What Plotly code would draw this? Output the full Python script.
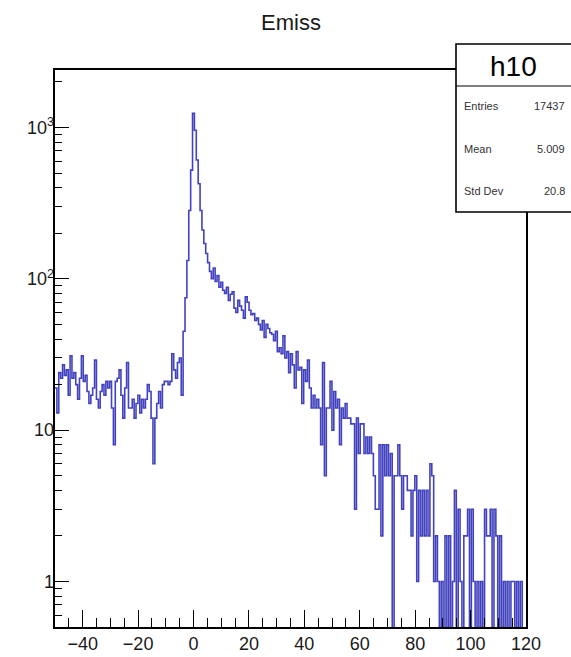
import numpy as np
import plotly.graph_objects as go

# ---------------- data ----------------
x_min, x_max, n_bins = -50.0, 120.0, 250
counts = [
    19, 13, 24, 22, 27, 23, 25, 17, 31, 22,
    24, 20, 16, 22, 31, 21, 23, 18, 15, 17,
    19, 29, 16, 14, 18, 20, 17, 21, 19, 21,
    14, 8, 21, 22, 25, 17, 12, 19, 28, 14,
    14, 16, 12, 15, 17, 13, 16, 14, 16, 20,
    18, 12, 6, 12, 15, 18, 14, 20, 21, 21,
    20, 21, 32, 25, 22, 28, 30, 17, 45, 75,
    132, 283, 523, 1240, 960, 610, 425, 283, 210, 171,
    147, 128, 112, 100, 118, 96, 105, 88, 95, 84,
    80, 88, 72, 79, 82, 64, 60, 72, 66, 62,
    55, 76, 70, 62, 58, 59, 53, 55, 50, 46,
    53, 41, 50, 47, 44, 43, 39, 45, 33, 35,
    32, 42, 30, 33, 24, 32, 27, 19, 33, 25,
    26, 15, 25, 21, 29, 19, 14, 17, 14, 16,
    14, 8, 28, 5, 14, 14, 21, 10, 18, 14,
    16, 8, 14, 12, 15, 12, 12, 11, 11, 3,
    12, 7, 11, 11, 7, 9, 7, 9, 7, 5,
    3, 3, 8, 2, 8, 5, 8, 5, 7, 0,
    5, 5, 8, 5, 3, 5, 5, 4, 4, 2,
    4, 5, 1, 4, 2, 4, 2, 4, 2, 6,
    5, 1, 2, 1, 0, 1, 0, 2, 0, 2,
    0, 1, 4, 0, 3, 1, 0, 2, 2, 3,
    0, 3, 1, 0, 1, 0, 1, 0, 3, 2,
    2, 3, 0, 3, 2, 0, 2, 0, 1, 0,
    1, 0, 1, 1, 0, 1, 0, 1, 0, 0,
]
assert len(counts) == n_bins

title_text = "Emiss"
stats_name = "h10"
stats_labels = ["Entries", "Mean", "Std Dev"]
stats_values = ["17437", "5.009", "20.8"]
x_tick_vals = [-40, -20, 0, 20, 40, 60, 80, 100, 120]
y_major_vals = [1, 10, 100, 1000]
y_major_text = ["1", "10", "10<sup>2</sup>", "10<sup>3</sup>"]
y_range_log = [np.log10(0.5), 3.38]

# ---------------- layout geometry ----------------
W, H = 571, 657
L, R, T, B = 55, 526, 70, 627
FONT = "Liberation Sans, Arial, Helvetica, sans-serif"
LINE_COL = "rgb(66,66,192)"


def px(xp):
    return (xp - L) / (R - L)


def py(yp):
    return (B - yp) / (B - T)


edges = np.linspace(x_min, x_max, n_bins + 1)
c = np.asarray(counts, dtype=float)
c_plot = np.where(c > 0, c, 0.05)  # empty bins drop below the frame
ys = np.append(c_plot, c_plot[-1])

fig = go.Figure()
fig.add_trace(go.Scatter(x=edges, y=ys, mode="lines",
                         line=dict(shape="hv", color=LINE_COL, width=1.6),
                         hoverinfo="skip", showlegend=False))
# invisible copy so that the major-tick overlay axis is drawn
fig.add_trace(go.Scatter(x=edges, y=ys, mode="lines", yaxis="y2", opacity=0,
                         line=dict(shape="hv", width=0),
                         hoverinfo="skip", showlegend=False))

minor_y = [m * 10.0 ** k for k in range(-1, 4) for m in range(1, 10)]

fig.update_layout(
    template="none",
    width=W, height=H, autosize=False,
    margin=dict(l=L, r=W - R, t=T, b=H - B, pad=0),
    paper_bgcolor="white", plot_bgcolor="white",
    font=dict(family=FONT, color="#1a1a1a", size=18),
    xaxis=dict(range=[x_min, x_max], showgrid=False, zeroline=False,
               automargin=False,
               showline=True, linecolor="black", linewidth=1.5, mirror=True,
               tickmode="array", tickvals=x_tick_vals, ticks="inside",
               ticklen=17, tickwidth=1.3, tickcolor="black",
               tickfont=dict(size=18, family=FONT, color="#1a1a1a"),
               minor=dict(dtick=5, tick0=0, ticks="inside", ticklen=9,
                          tickwidth=1.3, tickcolor="black", showgrid=False)),
    yaxis=dict(type="log", range=y_range_log, showgrid=False, zeroline=False,
               automargin=False,
               showline=True, linecolor="black", linewidth=1.5, mirror=True,
               tickmode="array", tickvals=minor_y,
               ticktext=[""] * len(minor_y), ticks="inside", ticklen=7,
               tickwidth=1.3, tickcolor="black"),
    yaxis2=dict(type="log", range=y_range_log, overlaying="y", side="left",
                automargin=False,
                showgrid=False, zeroline=False, showline=False,
                tickmode="array", tickvals=y_major_vals,
                ticktext=y_major_text, ticks="inside", ticklen=14,
                tickwidth=1.3, tickcolor="black",
                tickfont=dict(size=18, family=FONT, color="#1a1a1a")),
)

shapes = [
    dict(type="rect", xref="paper", yref="paper",
         x0=px(456), x1=px(580), y0=py(212), y1=py(44),
         fillcolor="white", line=dict(color="black", width=1.6), layer="above"),
    dict(type="line", xref="paper", yref="paper",
         x0=px(456), x1=px(580), y0=py(86), y1=py(86),
         line=dict(color="black", width=1.2), layer="above"),
]
fig.update_layout(shapes=shapes)

ann = [
    dict(text=title_text, x=0.5, y=py(22), xref="paper", yref="paper",
         showarrow=False, xanchor="center", yanchor="middle",
         font=dict(size=22, family=FONT, color="#1a1a1a")),
    dict(text=stats_name, x=px(513), y=py(66), xref="paper", yref="paper",
         showarrow=False, xanchor="center", yanchor="middle",
         font=dict(size=28, family=FONT, color="black")),
]
for lab, val, yy in zip(stats_labels, stats_values, [106, 149, 191]):
    ann.append(dict(text=lab, x=px(462), y=py(yy), xref="paper", yref="paper",
                    showarrow=False, xanchor="left", yanchor="middle",
                    font=dict(size=11, family=FONT, color="#333")))
    ann.append(dict(text=val, x=px(567), y=py(yy), xref="paper", yref="paper",
                    showarrow=False, xanchor="right", yanchor="middle",
                    font=dict(size=11, family=FONT, color="#333")))
fig.update_layout(annotations=ann)

fig.write_html("out.html")
